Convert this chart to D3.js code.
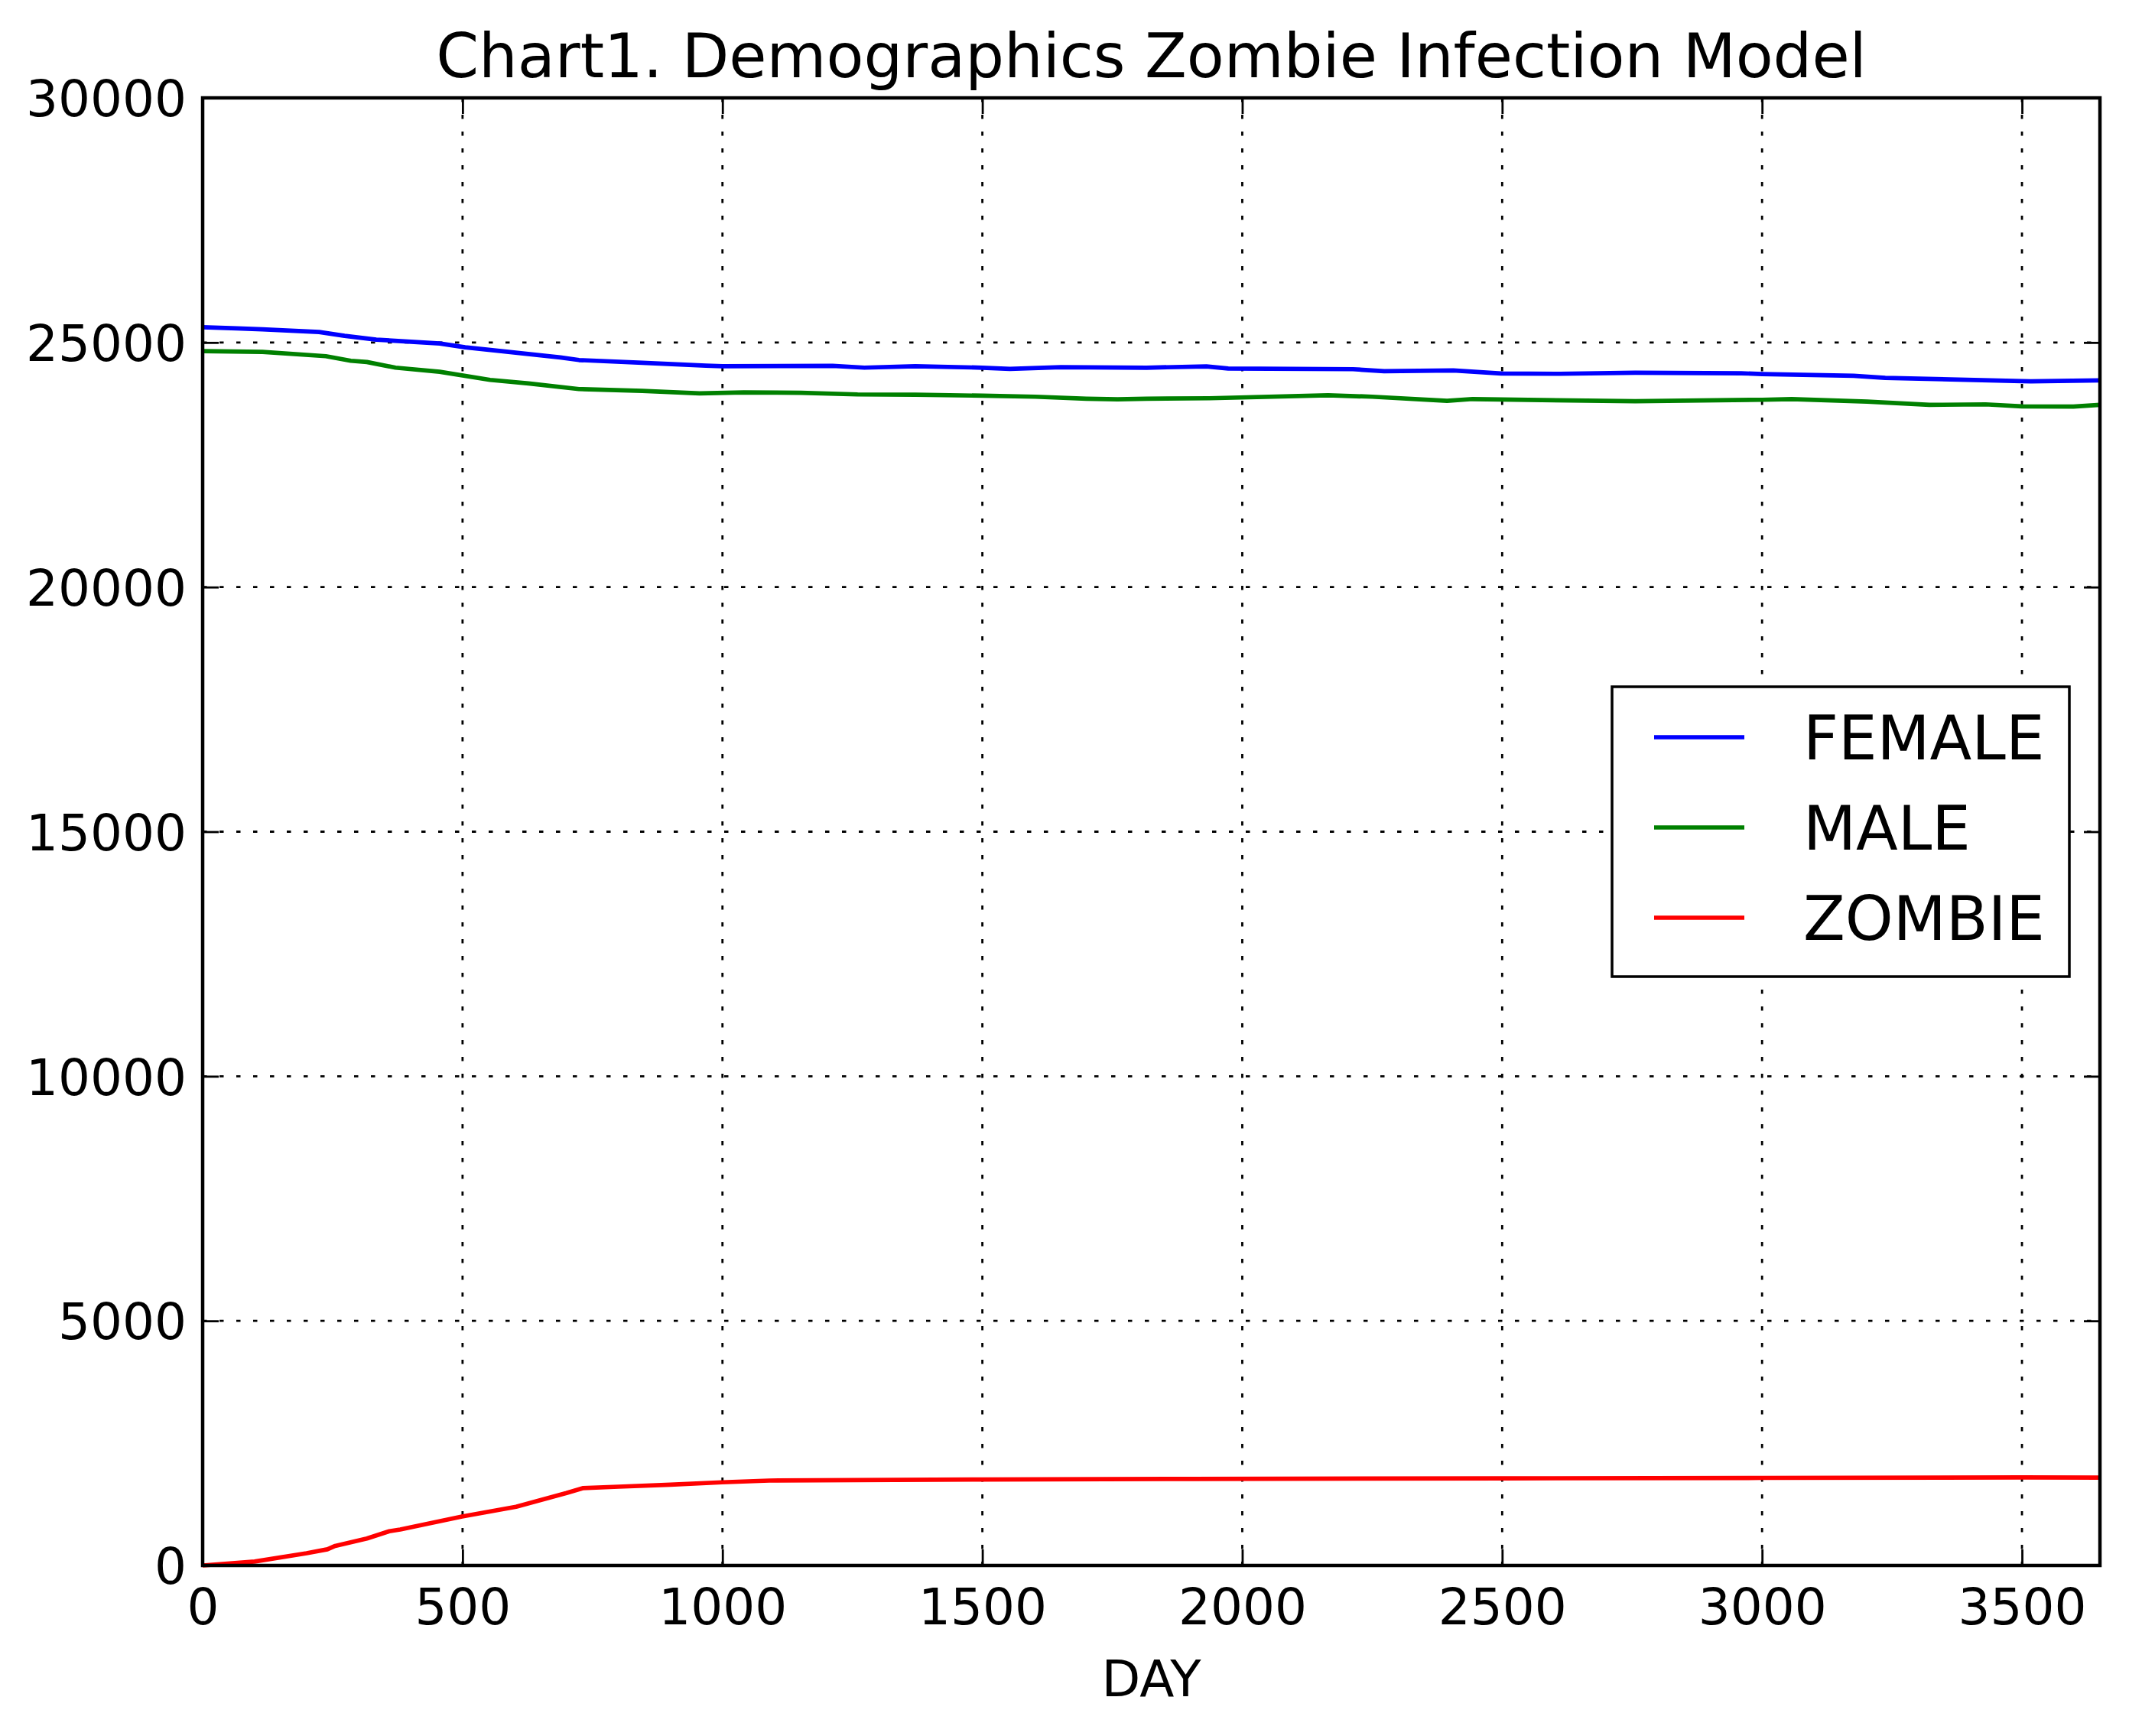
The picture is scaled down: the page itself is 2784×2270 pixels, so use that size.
<!DOCTYPE html>
<html>
<head>
<meta charset="utf-8">
<script src="https://cdn.jsdelivr.net/npm/d3@7"></script>
<style>
  body { margin: 0; background: #fff; }
  text { font-family: "DejaVu Sans", sans-serif; fill: #000; }
</style>
</head>
<body>
<div id="chart"></div>
<script>
// values
var femaleDays   = [0, 66, 115, 224, 273, 334, 456, 505, 578, 688, 724, 846, 968, 1000, 1212, 1273, 1371, 1500, 1553, 1651, 1816, 1931, 1973, 2213, 2273, 2406, 2498, 2611, 2756, 2960, 3000, 3176, 3237, 3500, 3517, 3650];
var femaleCounts = [25313, 25289, 25268, 25215, 25137, 25058, 24980, 24902, 24819, 24694, 24641, 24585, 24527, 24516, 24523, 24485, 24516, 24485, 24460, 24495, 24485, 24511, 24469, 24454, 24413, 24428, 24366, 24360, 24381, 24370, 24355, 24319, 24277, 24210, 24205, 24225];

var maleDays   = [0, 115, 237, 285, 316, 371, 456, 553, 627, 724, 846, 956, 1041, 1151, 1260, 1371, 1500, 1602, 1700, 1760, 1816, 1937, 2165, 2250, 2394, 2443, 2498, 2756, 3000, 3057, 3202, 3322, 3430, 3500, 3599, 3650];
var maleCounts = [24825, 24809, 24720, 24626, 24600, 24485, 24402, 24235, 24163, 24048, 24011, 23959, 23980, 23970, 23938, 23932, 23912, 23891, 23850, 23839, 23850, 23860, 23922, 23891, 23808, 23844, 23834, 23798, 23829, 23844, 23793, 23725, 23735, 23694, 23689, 23725];

var zombieDays   = [0, 100, 200, 240, 255, 316, 359, 380, 499, 603, 700, 731, 800, 900, 999, 1090, 1500, 1904, 2500, 3000, 3500, 3650];
var zombieCounts = [0, 80, 250, 330, 400, 550, 700, 735, 1000, 1200, 1480, 1580, 1610, 1650, 1700, 1735, 1758, 1770, 1780, 1790, 1800, 1795];

var seriesNames  = ["FEMALE", "MALE", "ZOMBIE"];
var seriesColors = ["#0000ff", "#008000", "#ff0000"];

var xTicks = [0, 500, 1000, 1500, 2000, 2500, 3000, 3500];
var yTicks = [0, 5000, 10000, 15000, 20000, 25000, 30000];

var titleText = "Chart1. Demographics Zombie Infection Model";
var xLabelText = "DAY";

var width = 2784, height = 2270;
var margin = {top: 128, right: 38, bottom: 223, left: 265};
var plotW = width - margin.left - margin.right;
var plotH = height - margin.top - margin.bottom;

var svg = d3.select("#chart").append("svg")
    .attr("width", width)
    .attr("height", height)
    .style("background", "#fff");

var x = d3.scaleLinear().domain([0, 3650]).range([0, plotW]);
var y = d3.scaleLinear().domain([0, 30000]).range([plotH, 0]);

var g = svg.append("g")
    .attr("transform", "translate(" + margin.left + "," + margin.top + ")");

//dotted grid lines
g.selectAll(".vgrid").data(xTicks.slice(1))
    .enter().append("line")
    .attr("x1", function (d) {return x(d)})
    .attr("x2", function (d) {return x(d)})
    .attr("y1", 0).attr("y2", plotH)
    .attr("stroke", "#000").attr("stroke-width", 2.8)
    .attr("stroke-dasharray", "5.5,16.5");

g.selectAll(".hgrid").data(yTicks.slice(1, -1))
    .enter().append("line")
    .attr("x1", 0).attr("x2", plotW)
    .attr("y1", function (d) {return y(d)})
    .attr("y2", function (d) {return y(d)})
    .attr("stroke", "#000").attr("stroke-width", 2.8)
    .attr("stroke-dasharray", "5.5,16.5");

//series lines
var line = d3.line()
    .x(function (d) {return x(d[0])})
    .y(function (d) {return y(d[1])});

var series = [
    d3.zip(femaleDays, femaleCounts),
    d3.zip(maleDays, maleCounts),
    d3.zip(zombieDays, zombieCounts)
];

g.selectAll(".series").data(series)
    .enter().append("path")
    .attr("d", line)
    .attr("fill", "none")
    .attr("stroke", function (d, i) {return seriesColors[i]})
    .attr("stroke-width", 5.7)
    .attr("stroke-linejoin", "round");

//axes, ticks pointing inward on all four sides
var tickLen = 21;
var xBottom = g.append("g").attr("transform", "translate(0," + plotH + ")")
    .call(d3.axisBottom(x).tickValues(xTicks).tickSize(-tickLen).tickPadding(30).tickFormat(d3.format("d")));
var xTop = g.append("g")
    .call(d3.axisTop(x).tickValues(xTicks).tickSize(-tickLen).tickFormat(""));
var yLeft = g.append("g")
    .call(d3.axisLeft(y).tickValues(yTicks).tickSize(-tickLen).tickPadding(21).tickFormat(d3.format("d")));
var yRight = g.append("g").attr("transform", "translate(" + plotW + ",0)")
    .call(d3.axisRight(y).tickValues(yTicks).tickSize(-tickLen).tickFormat(""));

[xBottom, xTop, yLeft, yRight].forEach(function (a) {
    a.select(".domain").remove();
    a.selectAll(".tick line").attr("stroke", "#000").attr("stroke-width", 2.8);
    a.selectAll("text").style("font-size", "66px").attr("fill", "#000");
});
xBottom.selectAll("text").attr("dy", "0.71em");
yLeft.selectAll("text").attr("dy", "0.36em");

//frame
g.append("rect")
    .attr("width", plotW).attr("height", plotH)
    .attr("fill", "none").attr("stroke", "#000").attr("stroke-width", 4.5);

//title and axis label
svg.append("text")
    .attr("x", margin.left + plotW / 2).attr("y", 101)
    .attr("text-anchor", "middle")
    .style("font-size", "80px")
    .text(titleText);

svg.append("text")
    .attr("x", margin.left + plotW / 2).attr("y", 2218)
    .attr("text-anchor", "middle")
    .style("font-size", "66px")
    .text(xLabelText);

//legend
var legend = svg.append("g").attr("transform", "translate(2108,898)");
legend.append("rect")
    .attr("width", 598).attr("height", 379)
    .attr("fill", "#fff").attr("stroke", "#000").attr("stroke-width", 3.5);

var rowH = 118;
var items = legend.selectAll(".item").data(seriesNames)
    .enter().append("g")
    .attr("transform", function (d, i) {return "translate(0," + (66 + i * rowH) + ")"});

items.append("line")
    .attr("x1", 55).attr("x2", 173)
    .attr("stroke", function (d, i) {return seriesColors[i]})
    .attr("stroke-width", 5.7);

items.append("text")
    .attr("x", 250).attr("y", 29)
    .style("font-size", "80px")
    .text(function (d) {return d});
</script>
</body>
</html>
